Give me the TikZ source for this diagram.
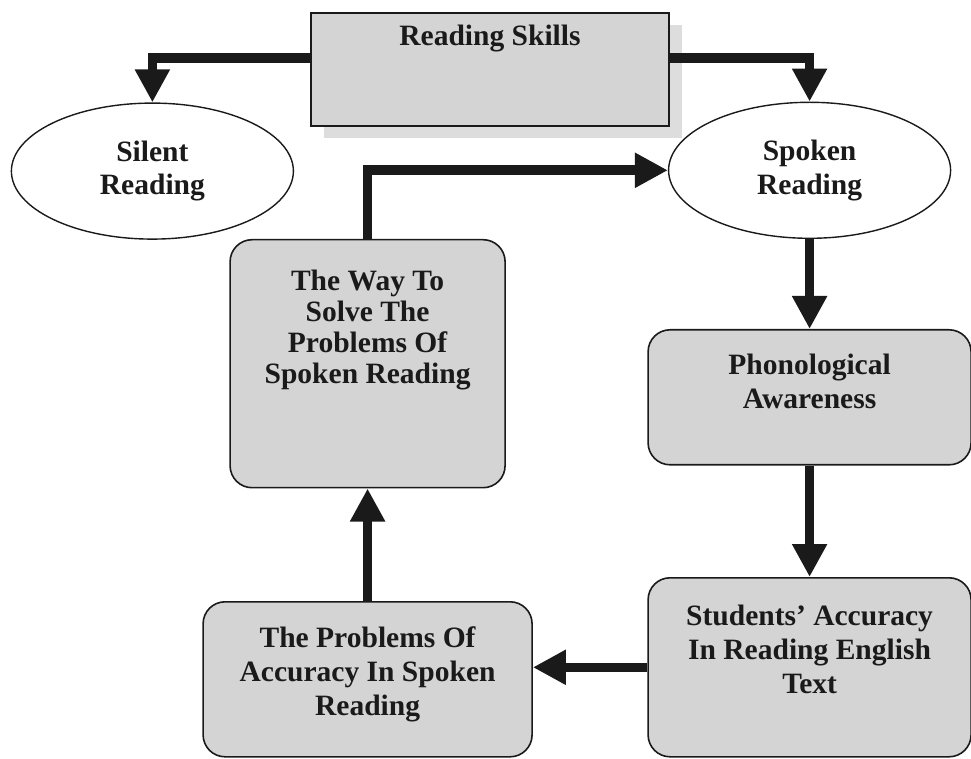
\documentclass[tikz,border=0pt]{standalone}
\usepackage{fontspec}
\setmainfont{Liberation Serif}
\usetikzlibrary{positioning,shapes.geometric,arrows.meta,shadows}
\definecolor{rsink}{HTML}{1A1A1A}
\definecolor{rsgrey}{HTML}{D4D4D4}
\definecolor{rsshade}{HTML}{DDDDDD}
\tikzset{
  lbl/.style={font=\fontsize{21}{24}\selectfont\bfseries,align=center,text=rsink},
  skillbox/.style={lbl,draw=rsink,line width=0.4mm,fill=rsgrey,minimum width=89.5mm,inner ysep=0pt,text height=8.25mm,text depth=20mm,drop shadow={shadow xshift=3.25mm,shadow yshift=-3mm,fill=rsshade,opacity=1}},
  oval/.style={lbl,ellipse,draw=rsink,line width=0.35mm,fill=white,minimum width=70.5mm,minimum height=34mm,inner sep=0pt},
  stage/.style={lbl,draw=rsink,line width=0.4mm,fill=rsgrey,rounded corners=5.5mm,inner ysep=0pt},
  lnk/.style={-{Triangle[length=8.25mm,width=8.25mm]},line width=2.4mm,draw=rsink},
}
\begin{document}
\begin{tikzpicture}[on grid]
  \useasboundingbox (-122.5mm,17.375mm) rectangle (120.25mm,-172.375mm);
  \node[skillbox] (skills) {Reading Skills};
  \node[oval,below left=25.4mm and 84.4mm of skills] (silent) {Silent\\Reading};
  \node[oval,below right=25.2mm and 79.9mm of skills] (spoken) {Spoken\\Reading};
  % text height runs to the last baseline
  \node[stage,minimum width=80.75mm,text height=19.7mm,text depth=14.05mm,below=56.75mm of spoken] (phono) {Phonological\\Awareness};
  \node[stage,minimum width=80.75mm,text height=28.9mm,text depth=15.85mm,below=67.5mm of phono] (accuracy) {Students' Accuracy\\In Reading English\\Text};
  \node[stage,minimum width=82.25mm,text height=28.4mm,text depth=10.35mm,below left=3mm and 110.5mm of accuracy] (problems) {The Problems Of\\Accuracy In Spoken\\Reading};
  \node[stage,font=\fontsize{21}{22}\selectfont\bfseries,minimum width=68.75mm,text height=36mm,text depth=26mm,above=78.9mm of problems] (solve) {The Way To\\Solve The\\Problems Of\\Spoken Reading};
  \draw[lnk] ([yshift=2.9mm]skills.west) -| (silent.north);
  \draw[lnk] ([yshift=2.9mm]skills.east) -| (spoken.north);
  \draw[lnk] (solve.north) |- (spoken.west);
  \draw[lnk] (spoken.south) -- (phono.north);
  \draw[lnk] (phono.south) -- (accuracy.north);
  \draw[lnk] (accuracy.west) -- (accuracy.west -| problems.east);
  \draw[lnk] (problems.north) -- (solve.south);
\end{tikzpicture}
\end{document}
